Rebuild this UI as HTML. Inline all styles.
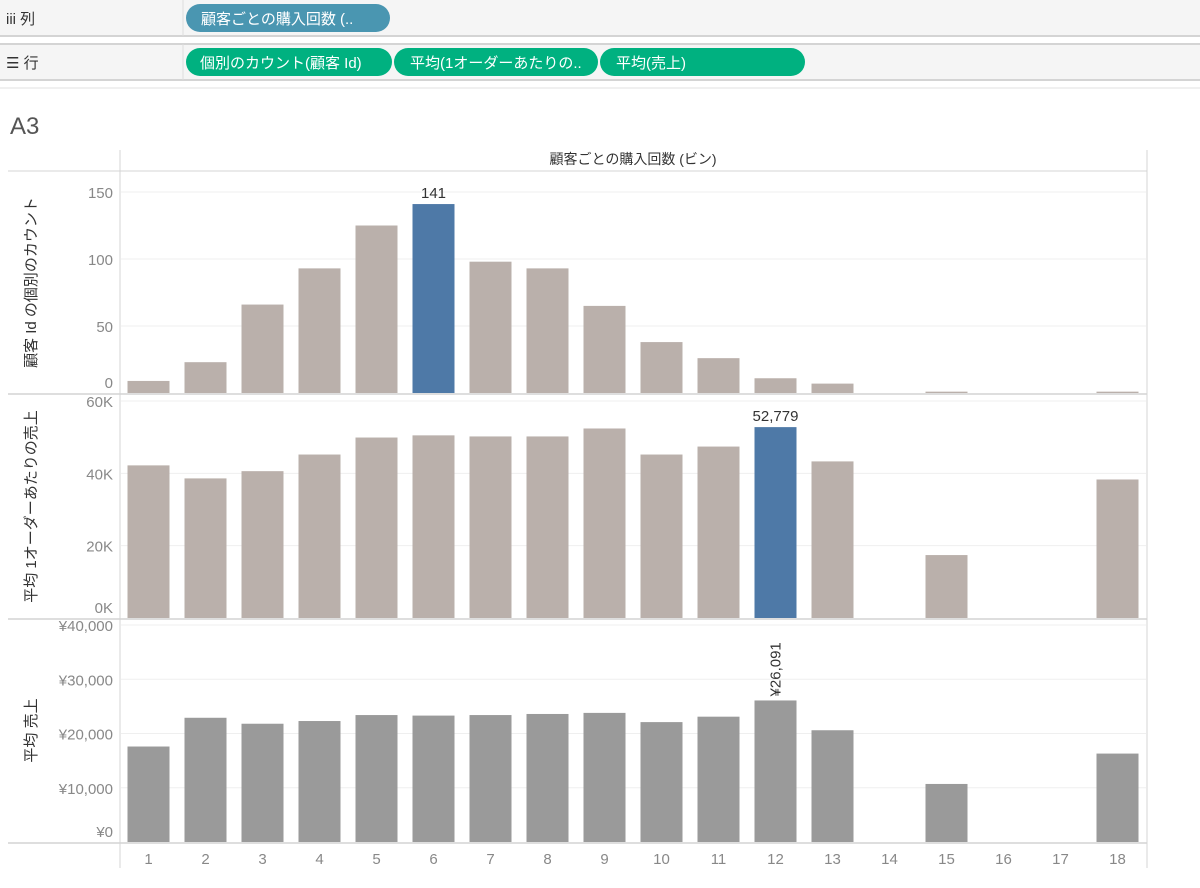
<!DOCTYPE html>
<html><head><meta charset="utf-8"><style>
body{margin:0;width:1200px;height:883px;background:#fff;overflow:hidden;font-family:"Liberation Sans","Noto Sans CJK JP",sans-serif;}
svg text{font-family:"Liberation Sans","Noto Sans CJK JP",sans-serif;}
</style></head><body>
<svg id="chart" width="1200" height="883" xmlns="http://www.w3.org/2000/svg">
<rect x="0" y="0" width="1200" height="36" fill="#f5f5f5"/>
<line x1="0" y1="36" x2="1200" y2="36" stroke="#d4d4d4" stroke-width="2"/>
<rect x="0" y="44" width="1200" height="36" fill="#f5f5f5"/>
<line x1="0" y1="44" x2="1200" y2="44" stroke="#d4d4d4" stroke-width="2"/>
<line x1="0" y1="80" x2="1200" y2="80" stroke="#d4d4d4" stroke-width="2"/>
<line x1="0" y1="88" x2="1200" y2="88" stroke="#e0e0e0" stroke-width="1"/>
<line x1="183" y1="0" x2="183" y2="36" stroke="#ddd"/>
<line x1="183" y1="44" x2="183" y2="80" stroke="#ddd"/>
<text x="6" y="24" font-size="15" fill="#333">iii 列</text>
<text x="6" y="68" font-size="15" fill="#333">☰ 行</text>
<g><rect x="186" y="4" width="204" height="28" rx="14" fill="#4a96b1"/><text x="201" y="24" font-size="15" fill="#fff">顧客ごとの購入回数 (..</text></g>
<g><rect x="186" y="48" width="206" height="28" rx="14" fill="#00b180"/><text x="200" y="68" font-size="15" fill="#fff">個別のカウント(顧客 Id)</text></g>
<g><rect x="394" y="48" width="204" height="28" rx="14" fill="#00b180"/><text x="410" y="68" font-size="15" fill="#fff">平均(1オーダーあたりの..</text></g>
<g><rect x="600" y="48" width="205" height="28" rx="14" fill="#00b180"/><text x="616" y="68" font-size="15" fill="#fff">平均(売上)</text></g>
<text x="10" y="134" font-size="24" fill="#555">A3</text>
<text x="633" y="164" font-size="14" fill="#333" text-anchor="middle">顧客ごとの購入回数 (ビン)</text>
<line x1="120" y1="150" x2="120" y2="868" stroke="#d4d4d4"/>
<line x1="1147" y1="150" x2="1147" y2="868" stroke="#d4d4d4"/>
<line x1="8" y1="171" x2="1147" y2="171" stroke="#d4d4d4"/>
<g id="marks"></g>
</svg>
<script>
const categories=[1,2,3,4,5,6,7,8,9,10,11,12,13,14,15,16,17,18];
const countValues=[9,23,66,93,125,141,98,93,65,38,26,11,7,0,1,0,0,1];
const orderValues=[42200,38600,40600,45200,49900,50500,50200,50200,52400,45200,47400,52779,43300,0,17400,0,0,38300];
const salesValues=[17600,22900,21800,22300,23400,23300,23400,23600,23800,22100,23100,26091,20600,0,10700,0,0,16300];
const countTicks=[0,50,100,150];
const orderTicks=[0,20000,40000,60000];
const orderTickLabels=["0K","20K","40K","60K"];
const salesTicks=[0,10000,20000,30000,40000];
const salesTickLabels=["¥0","¥10,000","¥20,000","¥30,000","¥40,000"];
const NS="http://www.w3.org/2000/svg";
const g=document.getElementById('marks');
function mk(tag,attrs,txt){const e=document.createElementNS(NS,tag);for(const k in attrs)e.setAttribute(k,attrs[k]);if(txt!==undefined)e.textContent=txt;g.appendChild(e);return e;}
const x0=120,colW=57,barW=42;
function xc(i){return x0+colW*(i+0.5);}
const panels=[
 {vals:countValues,ticks:countTicks,labels:countTicks.map(String),bottom:393,top:172,max:150,pxTop:192,color:'#bab0ab',hl:5,hlLabel:'141',title:'顧客 Id の個別のカウント',name:'count'},
 {vals:orderValues,ticks:orderTicks,labels:orderTickLabels,bottom:618,top:395,max:60000,pxTop:401,color:'#bab0ab',hl:11,hlLabel:'52,779',title:'平均 1オーダーあたりの売上',name:'order'},
 {vals:salesValues,ticks:salesTicks,labels:salesTickLabels,bottom:842,top:619,max:40000,pxTop:625,color:'#9a9a9a',hl:-1,rotLabel:11,title:'平均 売上',name:'sales'}
];
panels.forEach(p=>{
 const y=v=>p.bottom-(v/p.max)*(p.bottom-p.pxTop);
 p.ticks.forEach((t,k)=>{
  const ty=y(t);
  if(t>0){const l=mk('line',{x1:121,x2:1146,y1:ty,y2:ty,stroke:'#efefef'});
  
  }
  const lbl=mk('text',{x:113,y:Math.min(ty+6,p.bottom-5),'font-size':15,fill:'#888','text-anchor':'end'},p.labels[k]);
  
  
 });
 const mid=(p.top+p.bottom)/2;
 const tt=mk('text',{x:0,y:0,'font-size':15,fill:'#333','text-anchor':'middle',transform:`translate(36,${mid}) rotate(-90)`},p.title);
 
 
 p.vals.forEach((v,i)=>{
  if(v<=0)return;
  const r=mk('rect',{x:xc(i)-barW/2,y:y(v),width:barW,height:p.bottom-y(v),fill:i===p.hl?'#4e79a7':p.color});
  
  
  if(i===p.hl){const t=mk('text',{x:xc(i),y:y(v)-6,'font-size':15,fill:'#333','text-anchor':'middle'},p.hlLabel);
   
   }
  if(i===p.rotLabel){const t=mk('text',{x:0,y:0,'font-size':15,fill:'#333','text-anchor':'start',transform:`translate(${xc(i)+5},${y(v)-4}) rotate(-90)`},'¥'+v.toLocaleString('en-US'));
   
   }
 });
 const b=mk('line',{x1:8,x2:1147,y1:p.bottom+1,y2:p.bottom+1,stroke:'#d4d4d4','stroke-width':1.5});
 
 
});
categories.forEach((c,i)=>{
 const t=mk('text',{x:xc(i),y:864,'font-size':15,fill:'#888','text-anchor':'middle'},String(c));
 
 
});
</script>
</body></html>
